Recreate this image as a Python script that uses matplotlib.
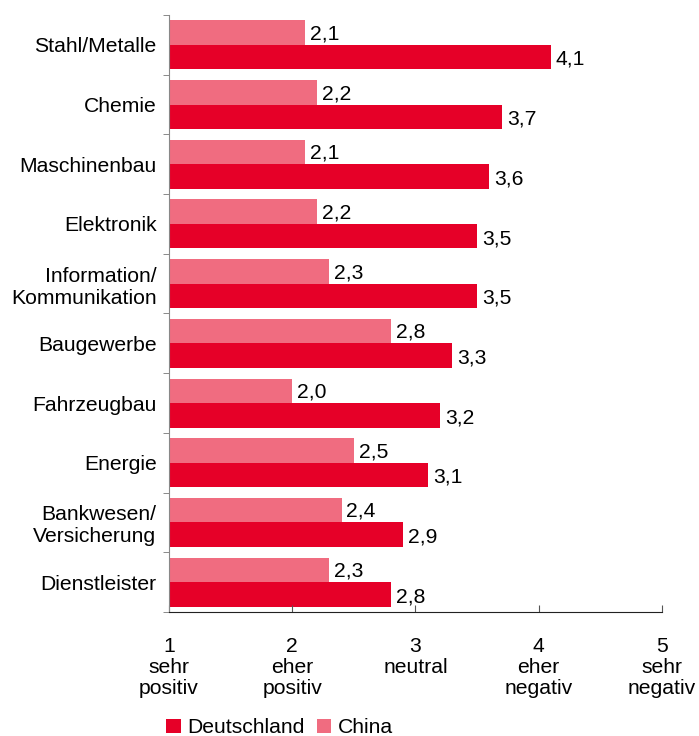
import numpy as np
import matplotlib.pyplot as plt

plt.rcParams['font.family'] = ['Liberation Sans', 'DejaVu Sans']

# Data
categories = ['Stahl/Metalle', 'Chemie', 'Maschinenbau', 'Elektronik',
              'Information/\nKommunikation', 'Baugewerbe', 'Fahrzeugbau',
              'Energie', 'Bankwesen/\nVersicherung', 'Dienstleister']
deutschland = [4.1, 3.7, 3.6, 3.5, 3.5, 3.3, 3.2, 3.1, 2.9, 2.8]
china = [2.1, 2.2, 2.1, 2.2, 2.3, 2.8, 2.0, 2.5, 2.4, 2.3]
tick_labels = ['1\nsehr\npositiv', '2\neher\npositiv', '3\nneutral',
               '4\neher\nnegativ', '5\nsehr\nnegativ']

red = '#E60028'
pink = '#F06C80'
fs = 15.2

fig = plt.figure(figsize=(6.99, 7.36), dpi=100)
ax = fig.add_axes([0.2418, 0.1685, 0.7052, 0.8111])

n = len(categories)
y = np.arange(n)
h = 0.41
base = 1

ax.barh(y - h / 2, np.array(china) - base, height=h, left=base, color=pink, label='China')
ax.barh(y + h / 2, np.array(deutschland) - base, height=h, left=base, color=red, label='Deutschland')

for i in range(n):
    ax.text(china[i] + 0.04, y[i] - h / 2 + 0.02, f'{china[i]:.1f}'.replace('.', ','),
            va='center', ha='left', fontsize=fs)
    ax.text(deutschland[i] + 0.04, y[i] + h / 2 + 0.04, f'{deutschland[i]:.1f}'.replace('.', ','),
            va='center', ha='left', fontsize=fs)

ax.set_xlim(1, 5)
ax.set_ylim(n - 0.5, -0.5)
ax.set_xticks([1, 2, 3, 4, 5])
ax.set_xticklabels(tick_labels, fontsize=fs, linespacing=1.12)
ax.tick_params(axis='x', direction='in', length=5, pad=18, color='#555555')

ax.set_yticks(y)
ax.set_yticklabels(categories, fontsize=fs, ha='right', multialignment='right', linespacing=1.2)
ax.tick_params(axis='y', which='major', length=0, pad=9)
ax.set_yticks(np.arange(-0.5, n, 1), minor=True)
ax.tick_params(axis='y', which='minor', length=4, color='#777777', direction='out')

for s in ['top', 'right']:
    ax.spines[s].set_visible(False)
ax.spines['left'].set_color('#888888')
ax.spines['bottom'].set_color('#222222')

handles, labels = ax.get_legend_handles_labels()
fig.legend(handles[::-1], labels[::-1], loc='lower left', bbox_to_anchor=(0.217, -0.022),
           ncol=2, frameon=False, fontsize=fs, handlelength=0.7, handleheight=0.7,
           handletextpad=0.3, columnspacing=0.55, borderpad=0.2)

fig.savefig('out.png', dpi=100)
